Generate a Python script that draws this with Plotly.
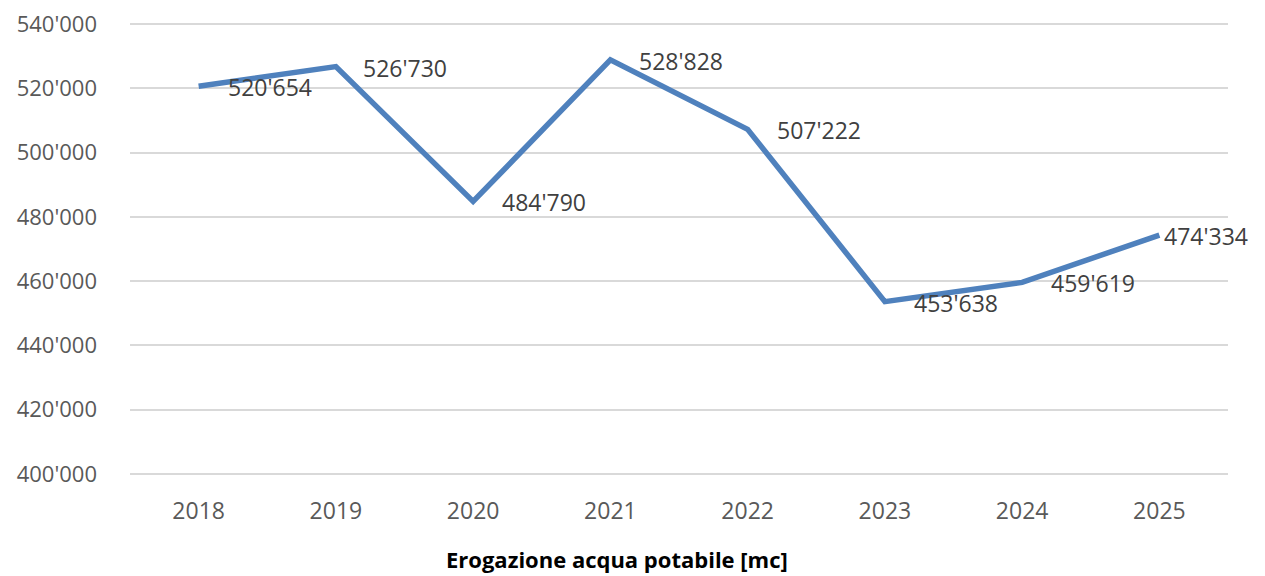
import plotly.graph_objects as go

years = ["2018", "2019", "2020", "2021", "2022", "2023", "2024", "2025"]
erogazione = [520654, 526730, 484790, 528828, 507222, 453638, 459619, 474334]
label_shift = [27, 25, 27, 27, 27, 27, 27, 3]

LINE_COLOR = "#4f81bd"
FONT = "Open Sans"

fig = go.Figure()
fig.add_trace(go.Scatter(
    x=years, y=erogazione, mode="lines",
    line=dict(color=LINE_COLOR, width=5.5),
    hoverinfo="x+y", showlegend=False,
))

# etichette dei valori a destra dei punti (x come indice di categoria)
for i, (val, dx) in enumerate(zip(erogazione, label_shift)):
    fig.add_annotation(
        x=i, y=val, xref="x", yref="y",
        text=f"{val:,}".replace(",", "'"),
        showarrow=False, xanchor="left", yanchor="middle",
        xshift=dx, yshift=-1,
        font=dict(family=FONT, size=23, color="#404040"),
    )

fig.add_annotation(
    text="<b>Erogazione acqua potabile [mc]</b>",
    xref="paper", yref="paper", x=0.4435, y=-0.182, yanchor="middle",
    showarrow=False,
    font=dict(family=FONT, size=22, color="#000000"),
)

fig.update_layout(
    width=1265, height=576,
    margin=dict(l=122, r=45, t=14, b=108),
    plot_bgcolor="white", paper_bgcolor="white",
    separators=".'",
    font=dict(family=FONT, size=23, color="#595959"),
)
fig.update_xaxes(
    type="category", range=[-0.5, 7.5], automargin=False,
    showgrid=False, showline=False, zeroline=False,
    ticks="", ticklabelstandoff=19,
    tickfont=dict(family=FONT, size=23, color="#595959"),
)
# range un po' più largo per non perdere le griglie ai bordi
fig.update_yaxes(
    range=[399386, 540614], dtick=20000, tick0=400000, tickformat=",",
    automargin=False, ticklabeloverflow="allow",
    showgrid=True, gridcolor="#d9d9d9", gridwidth=1.5,
    zeroline=False, showline=False, ticks="",
    ticklabelstandoff=32,
    tickfont=dict(family=FONT, size=22, color="#595959"),
)

fig.write_html("out.html")
